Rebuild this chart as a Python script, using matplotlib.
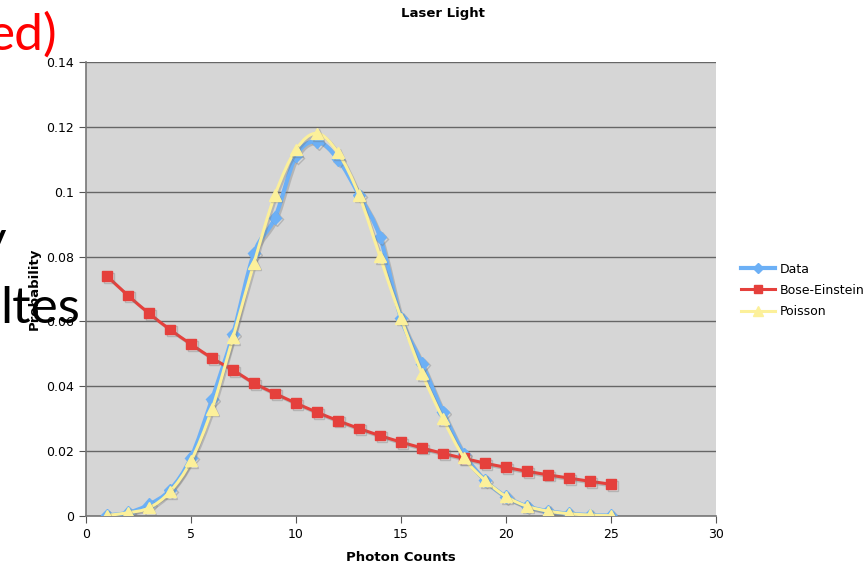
import matplotlib
matplotlib.use("Agg")
import matplotlib.pyplot as plt
import matplotlib.patheffects as pe
from matplotlib.path import Path
from matplotlib.patches import PathPatch
from matplotlib.lines import Line2D

x = list(range(1, 26))
data = [0.0002, 0.001, 0.0035, 0.008, 0.018, 0.036, 0.056, 0.081, 0.092, 0.111,
        0.1155, 0.110, 0.099, 0.086, 0.061, 0.047, 0.032, 0.019, 0.011, 0.006,
        0.003, 0.0015, 0.0007, 0.0003, 0.0001]
bose = [0.074, 0.068, 0.0625, 0.0575, 0.053, 0.0487, 0.045, 0.041, 0.0378, 0.0348,
        0.032, 0.0294, 0.027, 0.0248, 0.0228, 0.021, 0.0193, 0.0178, 0.0163, 0.015,
        0.0138, 0.0127, 0.0117, 0.0107, 0.0098]
poisson = [0.0002, 0.001, 0.0025, 0.0075, 0.017, 0.033, 0.055, 0.078, 0.099, 0.113,
           0.118, 0.112, 0.099, 0.080, 0.061, 0.044, 0.030, 0.018, 0.011, 0.006,
           0.003, 0.0015, 0.0007, 0.0003, 0.0001]
xticks = [0, 5, 10, 15, 20, 25, 30]
yticks = [0, 0.02, 0.04, 0.06, 0.08, 0.1, 0.12, 0.14]
yticklabels = ["0", "0.02", "0.04", "0.06", "0.08", "0.1", "0.12", "0.14"]


def smooth_path(xs, ys, t=1/6):
    pts = list(zip(xs, ys))
    n = len(pts)
    verts = [pts[0]]
    codes = [Path.MOVETO]
    for i in range(n - 1):
        p0 = pts[i - 1] if i > 0 else pts[i]
        p1 = pts[i]
        p2 = pts[i + 1]
        p3 = pts[i + 2] if i + 2 < n else pts[i + 1]
        c1 = (p1[0] + (p2[0] - p0[0]) * t, p1[1] + (p2[1] - p0[1]) * t)
        c2 = (p2[0] - (p3[0] - p1[0]) * t, p2[1] - (p3[1] - p1[1]) * t)
        verts += [c1, c2, p2]
        codes += [Path.CURVE4] * 3
    return Path(verts, codes)


fig = plt.figure(figsize=(8.67, 5.65), dpi=100)
ax = fig.add_axes([86/867, 1-516/565, 630/867, 454/565])
ax.set_facecolor("#d6d6d6")
ax.set_xlim(0, 30)
ax.set_ylim(0, 0.14)
ax.set_xticks(xticks)
ax.set_yticks(yticks)
ax.set_yticklabels(yticklabels)
ax.grid(axis="y", color="#666666", linewidth=1.0)
ax.set_axisbelow(True)
for s in ["top", "right"]:
    ax.spines[s].set_visible(False)
for s in ["left", "bottom"]:
    ax.spines[s].set_color("#777777")
    ax.spines[s].set_linewidth(1.2)
ax.tick_params(colors="#555555", labelcolor="black", labelsize=9, length=5, direction="out")

line_shadow = [pe.SimpleLineShadow(offset=(1.2, -1.2), shadow_color="#777777", alpha=0.35), pe.Normal()]

series = [
    ("Data", data, "#6cb0f6", 3.0, "D", 6.5, 3),
    ("Bose-Einstein", bose, "#e5403c", 2.2, "s", 7.0, 4),
    ("Poisson", poisson, "#fcf09a", 2.2, "^", 8.0, 5),
]
handles = []
for name, ys, col, lw, mk, ms, z in series:
    patch = PathPatch(smooth_path(x, ys), facecolor="none", edgecolor=col,
                      linewidth=lw, zorder=z, path_effects=line_shadow)
    ax.add_patch(patch)
    ax.plot(x, ys, linestyle="none", marker=mk, markersize=ms, color=col,
            zorder=z + 0.5, path_effects=line_shadow)
    handles.append(Line2D([], [], color=col, linewidth=lw, marker=mk, markersize=ms - 1, label=name))

ax.set_xlabel("Photon Counts", fontsize=9.5, fontweight="bold", labelpad=7)
ax.set_ylabel("Probability", fontsize=9.5, fontweight="bold", labelpad=4)
fig.text(443/867, 1-14/565, "Laser Light", ha="center", va="center",
         fontsize=9.5, fontweight="bold")

ax.legend(handles=handles, loc="center left", bbox_to_anchor=(1.03, 0.497), frameon=False,
          fontsize=9, handlelength=2.7, labelspacing=0.65, borderpad=0, handletextpad=0.4)

# Overlaid slide text fragments
fig.text(-12/867, 1-50/565, "ed)", color="#ff0000", fontsize=37, family="Lato",
         ha="left", va="baseline")
fig.text(-21/867, 1-256/565, "y", color="black", fontsize=37, family="Lato",
         ha="left", va="baseline")
fig.text(0/867, 1-323/565, "ltes", color="black", fontsize=37, family="Lato",
         ha="left", va="baseline")

fig.savefig("out.png", dpi=100)
